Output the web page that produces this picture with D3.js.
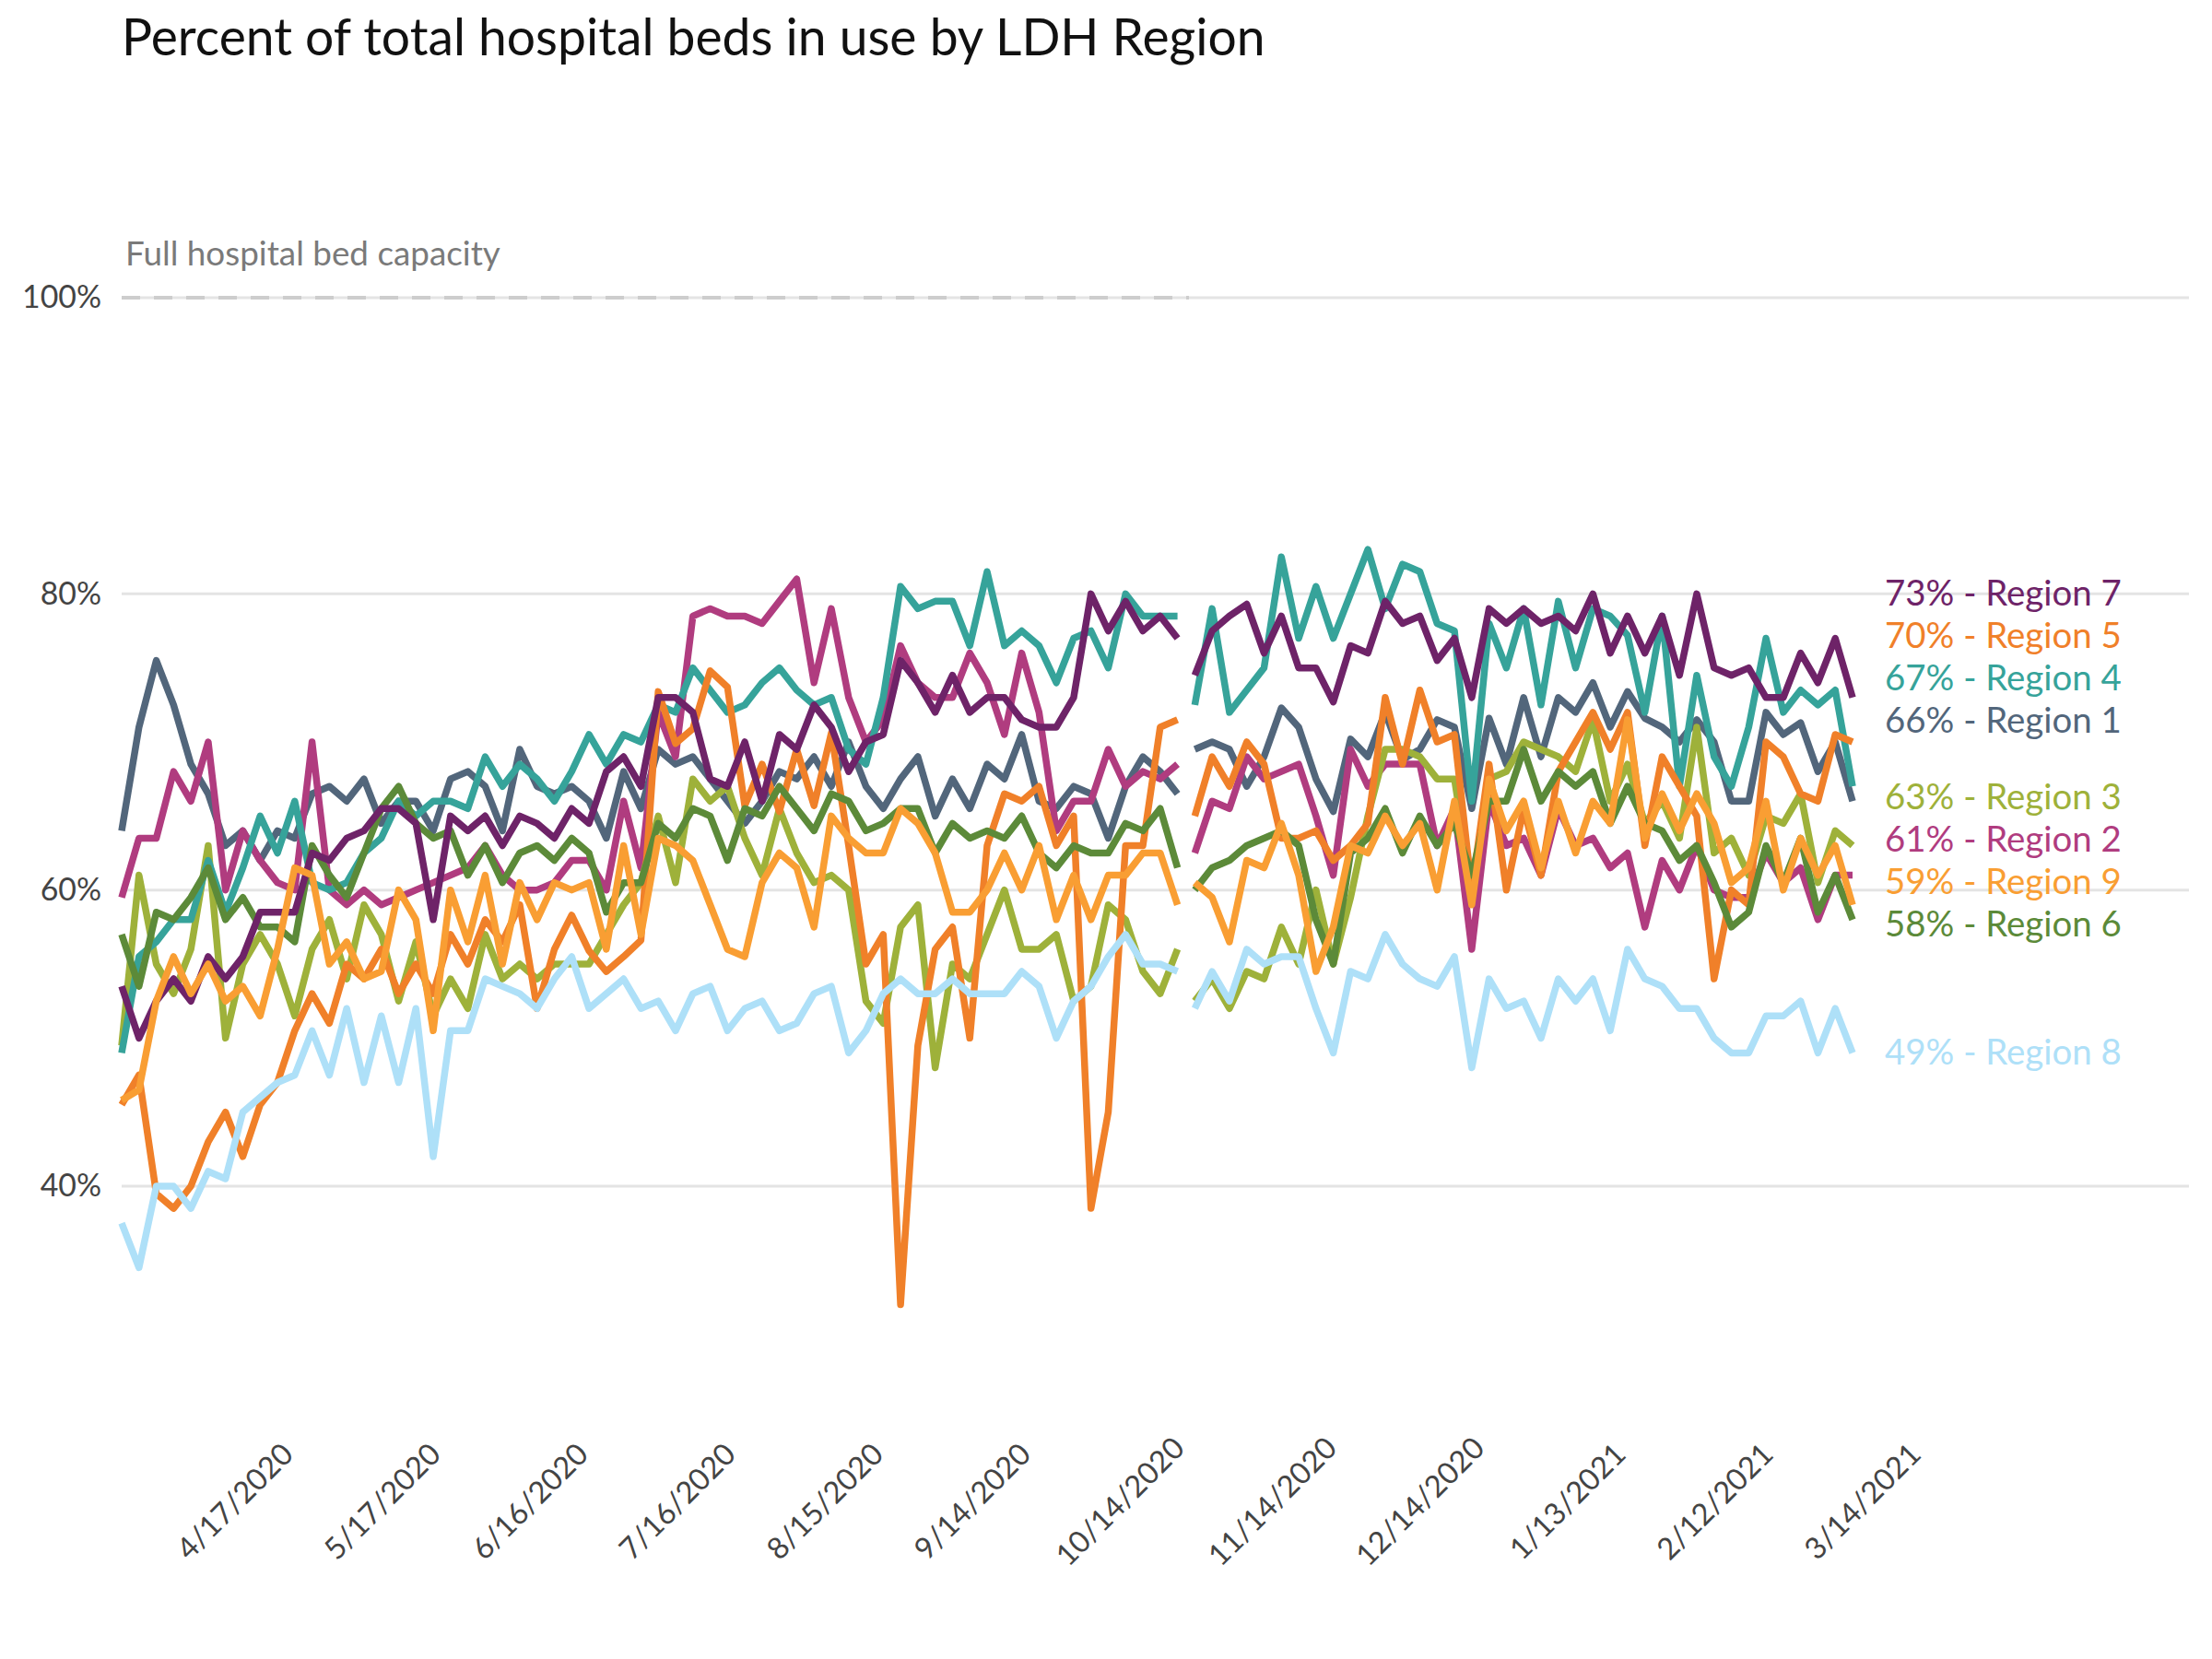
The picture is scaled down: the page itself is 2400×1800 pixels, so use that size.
<!DOCTYPE html>
<html><head><meta charset="utf-8">
<script src="https://cdn.jsdelivr.net/npm/d3@7"></script>
<style>
body{margin:0;background:#fff}
svg{display:block}
text{font-family:Lato,"Noto Sans",sans-serif}
</style>
</head><body>
<svg id="chart" width="2400" height="1800"></svg>
<script>
// ---------- DATA ----------
const firstDate = "2020-03-25";
const lastDate  = "2021-03-12";
const missingDate = "2020-10-27";   // no report for these days
const tickLabels = ["4/17/2020","5/17/2020","6/16/2020","7/16/2020","8/15/2020","9/14/2020",
                    "10/14/2020","11/14/2020","12/14/2020","1/13/2021","2/12/2021","3/14/2021"];
const yTickValues = [40, 60, 80, 100];
const regionNames = ["Region 1","Region 2","Region 3","Region 4","Region 5","Region 6","Region 7","Region 8","Region 9"];

const region1 = [64,71,75.5,72.5,68.5,66.5,63,64,62,64,
 63.5,66.5,67,66,67.5,64.5,66,66,64,67.5,
 68,67,64,69.5,67,66.5,67,66,63.5,68,
 65.5,69.5,68.5,69,67.5,66,64.5,66,68,67.5,
 69,67,70,67,65.5,67.5,69,65,67.5,65.5,
 68.5,67.5,70.5,66,65.5,67,66.5,63.5,67,69,
 68,66.5,69.5,70,69.5,67,69,72.3,71,67.5,
 65.3,70.2,69,72,68.8,69.5,71.5,71,65.5,71.6,
 68.5,73,69,73,72,74,71,73.4,71.6,71,
 70,71.5,70,66,66,72,70.5,71.3,68,70,66];
const region2 = [59.5,63.5,63.5,68,66,70,60,64,62,60.5,
 60,70,60,59,60,59,59.5,60,60.5,61,
 61.5,63,61,60,60,60.5,62,62,60,66,
 61.5,72,69,78.5,79,78.5,78.5,78,79.5,81,
 74,79,73,70,71.5,76.5,74,73,73,76,
 74,70.5,76,72,64,66,66,69.5,67,68,
 67.5,68.5,62.5,66,65.5,69,67.5,68,68.5,65,
 61,69.5,67,68.5,68.5,68.5,63,65.5,56,66,
 63,63.5,61,65.5,63,63.5,61.5,62.5,57.5,62,
 60,63,60,59.5,59.5,62.5,60.5,61.5,58,61,61];
const region3 = [49.5,61,55,53,56,63,50,55,57,55,
 51.5,56,58,54,59,57,52.5,56.5,51.5,54,
 52,57,54,55,54,55,55,55,57,59,
 60.5,65,60.5,67.5,66,67,63.5,61,65.5,62.5,
 60.5,61,60,52.5,51,57.5,59,48,55,54,
 57,60,56,56,57,52.5,53.5,59,58,54.5,
 53,56,52.5,54,52,54.5,54,57.5,55,60,
 55,59.5,65,69.5,69.5,69,67.5,67.5,60,67.5,
 68,70,69.5,69,68,71.5,66,68.5,64.5,66,
 63.5,71,62.5,63.5,61,65,64.5,66.5,60.5,64,63];
const region4 = [49,55.5,56.5,58,58,62,58.5,61.5,65,62.5,
 66,60.5,60,60.5,62.5,63.5,66,65,66,66,
 65.5,69,67,68.5,67.5,66,68,70.5,68.5,70.5,
 70,72.5,72,75,73.5,72,72.5,74,75,73.5,
 72.5,73,69.5,68.5,73,80.5,79,79.5,79.5,76.5,
 81.5,76.5,77.5,76.5,74,77,77.5,75,80,78.5,
 78.5,78.5,72.5,79,72,73.5,75,82.5,77,80.5,
 77,80,83,79,82,81.5,78,77.5,66,78,
 75,79,72.5,79.5,75,79,78.5,77.2,72,78.5,
 67,74.5,69,67,71,77,72,73.5,72.5,73.5,67];
const region5 = [45.5,47.5,39.5,38.5,40,43,45,42,45.5,47,
 50.5,53,51,55,54,56,53,55,53,57,
 55,58,56.5,59,52,56,58.3,55.9,54.5,55.5,
 56.6,73.4,69.9,70.9,74.8,73.7,65.7,68.5,65.3,69.5,
 65.7,70.6,63,55,57,32,49.5,56,57.5,50,
 63,66.5,66,67,63,65,38.5,45,63,63,
 71,71.5,65,69,67,70,68.5,63.5,63.5,64,
 62,63,64.5,73,68.5,73.5,70,70.5,60,68.5,
 60,65.5,61,68,70,72,69.5,72,63,69,
 67,65,54,60,59,70,69,66.5,66,70.5,70];
const region6 = [57,53.5,58.5,58,59.5,61.5,58,59.5,57.5,57.5,
 56.5,63,61,59.5,62.5,65.5,67,64.5,63.5,64,
 61,63,60.5,62.5,63,62,63.5,62.5,58.5,60.5,
 60.5,64.5,63.5,65.5,65,62,65.5,65,67,65.5,
 64,66.5,66,64,64.5,65.5,65.5,62.5,64.5,63.5,
 64,63.5,65,62.5,61.5,63,62.5,62.5,64.5,64,
 65.5,61.5,60,61.5,62,63,63.5,64,63,58,
 55,62.5,63.5,65.5,62.5,65,63,64.5,61,66,
 66,69.5,66,68,67,68,64.5,67,64.5,64,
 62,63,60.5,57.5,58.5,63,60.5,63.5,58.5,61,58];
const region7 = [53.5,50,52.5,54,52.5,55.5,54,55.5,58.5,58.5,
 58.5,62.5,62,63.5,64,65.5,65.5,64.5,58,65,
 64,65,63,65,64.5,63.5,65.5,64.5,68,69,
 67,73,73,72,67.5,67,70,66,70.5,69.5,
 72.5,71,68,70,70.5,75.5,74,72,74.5,72,
 73,73,71.5,71,71,73,80,77.5,79.5,77.5,
 78.5,77,74.5,77.5,78.5,79.3,76,78.5,75,75,
 72.7,76.5,76,79.5,78,78.5,75.5,77,73,79,
 78,79,78,78.5,77.5,80,76,78.5,76,78.5,
 74.5,80,75,74.5,75,73,73,76,74,77,73];
const region8 = [37.5,34.5,40,40,38.5,41,40.5,45,46,47,
 47.5,50.5,47.5,52,47,51.5,47,52,42,50.5,
 50.5,54,53.5,53,52,54,55.5,52,53,54,
 52,52.5,50.5,53,53.5,50.5,52,52.5,50.5,51,
 53,53.5,49,50.5,53,54,53,53,54,53,
 53,53,54.5,53.5,50,52.5,53.5,55.5,57,55,
 55,54.5,52,54.5,52.5,56,55,55.5,55.5,52,
 49,54.5,54,57,55,54,53.5,55.5,48,54,
 52,52.5,50,54,52.5,54,50.5,56,54,53.5,
 52,52,50,49,49,51.5,51.5,52.5,49,52,49];
const region9 = [45.8,46.5,52.5,55.5,53,55,52.5,53.5,51.5,56,
 61.5,61,55,56.5,54,54.5,60,58,50.5,60,
 56.5,61,55,60.5,58,60.5,60,60.5,56,63,
 57,63.5,63,62,59,56,55.5,60.5,62.5,61.5,
 57.5,65,63.5,62.5,62.5,65.5,64.5,62.5,58.5,58.5,
 60,62.5,60,63,58,61,58,61,61,62.5,
 62.5,59,60.5,59.5,56.5,62,61.5,64.5,61,54.5,
 57.5,63,62.5,65,63,64.5,60,66,59,67.5,
 64,66,61.5,66,62.5,66,64.5,71.5,63.5,66.5,
 64,66.5,64.5,60.5,61.5,66,60,63.5,61,63,59];

const seriesValues = [region1, region2, region3, region4, region5, region6, region7, region8, region9];

// ---------- STYLE / LAYOUT ----------
const regionColors = ["#52667b","#b03c7f","#9eb13a","#36a39a","#f08029","#5c8a39","#6e2368","#aee0f8","#f99e33"];
const plotLeft = 132, plotRight = 2010, gridRight = 2375;
const labelSlotsY = [644, 690, 736, 782, 865, 911, 957, 1003, 1142];

const svg = d3.select("#chart");
const parse = d3.timeParse("%Y-%m-%d");
const parseTick = d3.timeParse("%m/%d/%Y");
const t0 = parse(firstDate), t1 = parse(lastDate);
const nPts = region1.length;
const span = (t1 - t0);
const dates = d3.range(nPts).map(i => new Date(+t0 + span * i / (nPts - 1)));
const gapD = parse(missingDate);

const x = d3.scaleTime().domain([t0, t1]).range([plotLeft, plotRight]);
const y = d3.scaleLinear().domain([40, 100]).range([1287, 323]);

function fit(sel, target) {
  const w = sel.node().getComputedTextLength();
  const fs = parseFloat(sel.attr("font-size"));
  return fs * target / w;
}

// gridlines
svg.append("g").selectAll("line").data(yTickValues).join("line")
  .attr("x1", plotLeft).attr("x2", gridRight)
  .attr("y1", d => y(d)).attr("y2", d => y(d))
  .attr("stroke", "#e4e4e4").attr("stroke-width", 3);

// full capacity dashed line
svg.append("line")
  .attr("x1", plotLeft).attr("x2", 1290)
  .attr("y1", y(100)).attr("y2", y(100))
  .attr("stroke", "#cdcdcd").attr("stroke-width", 4)
  .attr("stroke-dasharray", "20,15");

// y tick labels
const yAxis = d3.axisLeft(y).tickValues(yTickValues).tickFormat(d => d + "%").tickSize(0).tickPadding(0);
const gy = svg.append("g").attr("transform", `translate(110,0)`).call(yAxis);
gy.select(".domain").remove();
gy.selectAll("text").attr("font-family", "Lato, sans-serif").attr("fill", "#444").attr("font-size", 30);
{
  const t = gy.selectAll("text").filter(d => d === 100);
  const fs = fit(t, 86);
  gy.selectAll("text").attr("font-size", fs);
}

// x tick labels
const tickDates = tickLabels.map(parseTick);
const gx = svg.append("g");
const xt = gx.selectAll("text").data(tickLabels).join("text")
  .attr("transform", (d, i) => `translate(${x(tickDates[i])},1629) rotate(-45)`)
  .attr("text-anchor", "middle").attr("dy", "0.35em")
  .attr("fill", "#444").attr("font-size", 30)
  .text(d => d);
{
  const fs = fit(xt.filter((d, i) => i === 0), 162);
  xt.attr("font-size", fs);
}

// lines
const line = d3.line()
  .defined(d => d.v != null)
  .x(d => x(d.date)).y(d => y(d.v))
  .curve(d3.curveLinear);

const series = seriesValues.map((vals, s) => {
  const pts = vals.map((v, i) => ({date: dates[i], v}));
  const idx = pts.findIndex(p => p.date > gapD);
  pts.splice(idx, 0, {date: gapD, v: null});
  return {name: regionNames[s], color: regionColors[s], pts, last: vals[vals.length - 1]};
});

svg.append("g").selectAll("path").data(series).join("path")
  .attr("d", d => line(d.pts))
  .attr("fill", "none")
  .attr("stroke", d => d.color)
  .attr("stroke-width", 7.5)
  .attr("stroke-linejoin", "round")
  .attr("stroke-linecap", "butt");

// end labels
const sorted = series.slice().sort((a, b) => b.last - a.last);
const el = svg.append("g").selectAll("text").data(sorted).join("text")
  .attr("x", 2045).attr("y", (d, i) => labelSlotsY[i])
  .attr("dy", "0.35em")
  .attr("fill", d => d.color).attr("font-size", 34)
  .text(d => `${Math.round(d.last)}% - ${d.name}`);
{
  const fs = fit(el.filter((d, i) => i === 0), 257);
  el.attr("font-size", fs);
}

// annotation
const ann = svg.append("text").attr("x", 136).attr("y", 288)
  .attr("fill", "#7a7a7a").attr("font-size", 30)
  .text("Full hospital bed capacity");
ann.attr("font-size", fit(ann, 407));

// title
const title = svg.append("text").attr("x", 132).attr("y", 60)
  .attr("fill", "#111").attr("font-size", 52)
  .text("Percent of total hospital beds in use by LDH Region");
title.attr("font-size", fit(title, 1241));
</script>
</body></html>
